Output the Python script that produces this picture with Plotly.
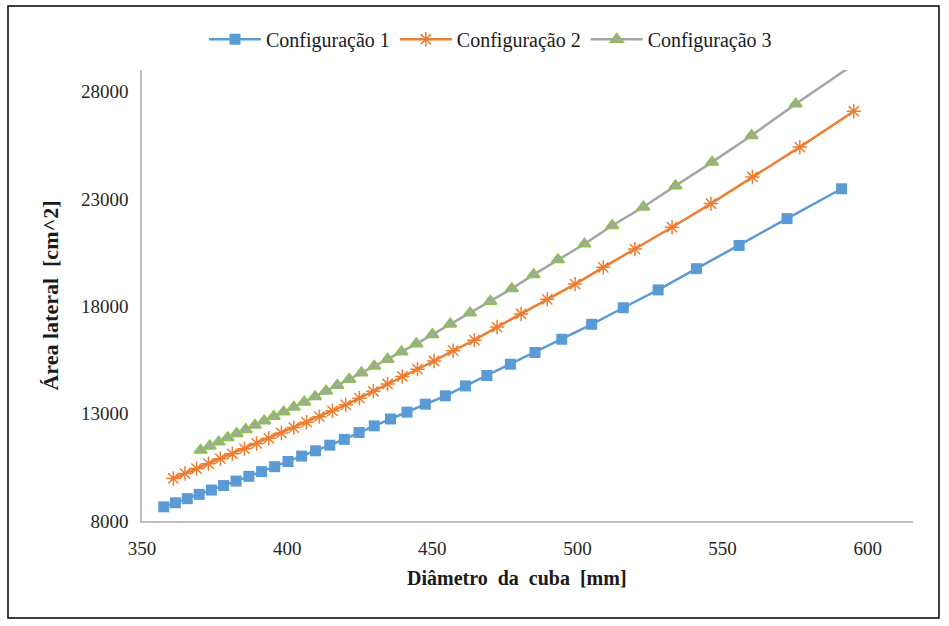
import plotly.graph_objects as go

# Diâmetro da cuba [mm] e área lateral [cm^2] para cada configuração
diam_cfg1 = [357.5, 361.5, 365.6, 369.7, 373.9, 378.1, 382.4, 386.8, 391.2, 395.7,
             400.3, 405.0, 409.8, 414.7, 419.7, 424.8, 430.0, 435.6, 441.3, 447.6,
             454.5, 461.4, 468.8, 476.9, 485.4, 494.6, 504.9, 515.8, 527.8, 541.0,
             555.7, 572.2, 591.0]
area_cfg1 = [8660, 8850, 9040, 9240, 9440, 9650, 9860, 10080, 10300, 10530,
             10770, 11020, 11270, 11530, 11800, 12120, 12430, 12750, 13070, 13440,
             13830, 14290, 14775, 15300, 15845, 16463, 17160, 17930, 18760, 19750,
             20830, 22080, 23470]

diam_cfg2 = [360.8, 364.8, 368.8, 372.9, 377.0, 381.1, 385.3, 389.5, 393.7, 398.0,
             402.3, 406.7, 411.1, 415.6, 420.2, 424.9, 429.7, 434.6, 439.7, 444.9,
             450.6, 457.2, 464.5, 472.3, 480.6, 489.6, 499.2, 508.9, 519.8, 532.6,
             546.0, 560.3, 576.6, 595.2]
area_cfg2 = [9980, 10210, 10440, 10670, 10900, 11130, 11370, 11610, 11850, 12100,
             12350, 12600, 12860, 13130, 13410, 13720, 14040, 14380, 14730, 15070,
             15450, 15930, 16420, 17030, 17640, 18320, 19030, 19810, 20660, 21680,
             22780, 24020, 25410, 27080]

diam_cfg3 = [370.2, 373.3, 376.4, 379.5, 382.6, 385.7, 388.9, 392.1, 395.4, 398.8,
             402.3, 405.9, 409.6, 413.4, 417.3, 421.4, 425.6, 430.0, 434.6, 439.4,
             444.5, 450.0, 456.2, 463.0, 470.0, 477.4, 484.9, 493.3, 502.4, 512.0,
             522.7, 533.8, 546.4, 560.0, 575.2, 594.5]
area_cfg3 = [11300, 11490, 11680, 11880, 12070, 12260, 12460, 12660, 12870, 13080,
             13300, 13540, 13790, 14050, 14320, 14600, 14900, 15210, 15530, 15880,
             16250, 16680, 17170, 17690, 18230, 18820, 19470, 20170, 20900, 21760,
             22620, 23610, 24710, 25950, 27420, 29200]

series_names = ["Configuração 1", "Configuração 2", "Configuração 3"]
x_ticks = [350, 400, 450, 500, 550, 600]
y_ticks = [8000, 13000, 18000, 23000, 28000]

SERIF = "Liberation Serif"
GAP = "\u00a0\u00a0"  # wider word spacing in the axis titles

fig = go.Figure()
fig.add_trace(go.Scatter(
    x=diam_cfg1, y=area_cfg1, name=series_names[0], mode="lines+markers",
    line=dict(color="#5B9BD5", width=2.5),
    marker=dict(symbol="square", size=11, color="#5B9BD5"),
))
fig.add_trace(go.Scatter(
    x=diam_cfg2, y=area_cfg2, name=series_names[1], mode="lines+markers",
    line=dict(color="#ED7D31", width=2.5),
    marker=dict(symbol="asterisk-open", size=12, line=dict(color="#ED7D31", width=1.5)),
))
fig.add_trace(go.Scatter(
    x=diam_cfg3, y=area_cfg3, name=series_names[2], mode="lines+markers",
    line=dict(color="#A5A5A5", width=2.5),
    marker=dict(symbol="triangle-up", size=11, color="#A5A5A5",
                line=dict(color="#8CC152", width=1.8)),
))

fig.update_layout(
    width=949, height=626,
    margin=dict(l=142, r=36, t=70, b=105),
    paper_bgcolor="white", plot_bgcolor="white",
    font=dict(family=SERIF, size=19, color="#262626"),
    showlegend=True,
    legend=dict(orientation="h", x=0.452, xanchor="center", y=1.025, yanchor="bottom",
                font=dict(family=SERIF, size=20, color="#1a1a1a"),
                itemwidth=52, bgcolor="rgba(0,0,0,0)"),
    xaxis=dict(
        range=[350, 615.6], tickvals=x_ticks, ticktext=[str(v) for v in x_ticks],
        showgrid=False, zeroline=False, showline=True, linecolor="#BFBFBF", linewidth=1.5,
        ticks="outside", ticklen=9, tickcolor="rgba(0,0,0,0)",
        tickfont=dict(family=SERIF, size=19, color="#262626"),
    ),
    yaxis=dict(
        range=[8000, 29000], tickvals=y_ticks, ticktext=[str(v) for v in y_ticks],
        showgrid=False, zeroline=False, showline=True, linecolor="#BFBFBF", linewidth=1.5,
        ticks="outside", ticklen=8, tickcolor="rgba(0,0,0,0)",
        tickfont=dict(family=SERIF, size=19, color="#262626"),
        title=dict(text="<b>Área lateral" + GAP + "[cm^2]</b>", standoff=16,
                   font=dict(family=SERIF, size=22, color="#1a1a1a")),
    ),
    annotations=[dict(
        text="<b>Diâmetro" + GAP + "da" + GAP + "cuba" + GAP + "[mm]</b>",
        xref="paper", yref="paper", x=0.486, y=-0.126,
        xanchor="center", yanchor="middle", showarrow=False,
        font=dict(family=SERIF, size=20, color="#1a1a1a"),
    )],
    shapes=[dict(type="rect", xref="paper", yref="paper",
                 x0=-0.1738, x1=1.0337, y0=-0.2151, y1=1.1419,
                 line=dict(color="black", width=1.5), fillcolor="rgba(0,0,0,0)",
                 layer="below")],
)

fig.write_html("out.html")
